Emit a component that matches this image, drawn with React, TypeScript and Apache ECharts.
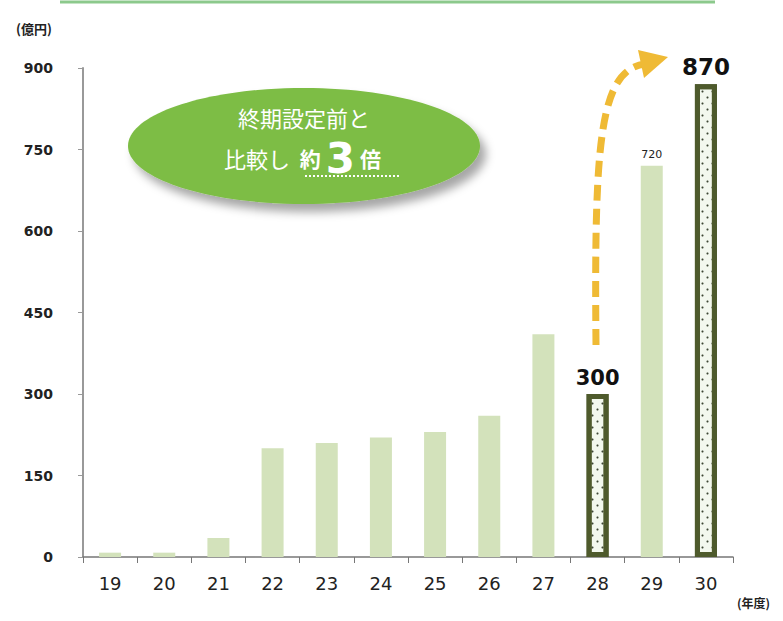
import React, { useEffect, useRef } from "react";
import * as echarts from "echarts";

const categories = ["19", "20", "21", "22", "23", "24", "25", "26", "27", "28", "29", "30"];
const values = [8, 8, 35, 200, 210, 220, 230, 260, 410, 300, 720, 870];
const highlighted = ["28", "30"];
const smallLabel = ["29"];
const yTicks = [0, 150, 300, 450, 600, 750, 900];

export default function App() {
  const ref = useRef<HTMLDivElement>(null);
  useEffect(() => {
    if (!ref.current) return;
    const chart = echarts.init(ref.current, null, { renderer: "svg" });
    const data = values.map((v, i) => {
      const c = categories[i];
      if (highlighted.includes(c)) {
        return {
          value: v,
          itemStyle: {
            color: "#f3f8ee",
            borderColor: "#4e5a2c",
            borderWidth: 5,
            decal: {
              symbol: "circle",
              symbolSize: 0.7,
              color: "rgba(30,40,20,0.85)",
              dashArrayX: [[5, 5], [0, 5, 5, 0]],
              dashArrayY: [3, 3],
              rotation: 0,
            },
          },
          label: {
            show: true,
            position: "top",
            distance: 6,
            fontSize: c === "30" ? 23 : 21,
            fontWeight: "bold",
            color: "#111",
            fontFamily: "Verdana, DejaVu Sans, sans-serif",
          },
        };
      }
      if (smallLabel.includes(c)) {
        return {
          value: v,
          label: {
            show: true,
            position: "top",
            distance: 6,
            fontSize: 11,
            color: "#222",
            fontFamily: "DejaVu Sans, sans-serif",
          },
        };
      }
      return { value: v };
    });
    chart.setOption({
      animation: false,
      backgroundColor: "#ffffff",
      grid: { left: 83, right: 50, top: 68, bottom: 64, containLabel: false },
      xAxis: {
        type: "category",
        data: categories,
        axisLine: { show: true, lineStyle: { color: "#777", width: 1.5 } },
        axisTick: { show: true, alignWithLabel: false, length: 6, lineStyle: { color: "#777" } },
        axisLabel: {
          margin: 17,
          fontSize: 18,
          color: "#222",
          fontFamily: "Verdana, DejaVu Sans, sans-serif",
        },
      },
      yAxis: {
        type: "value",
        min: 0,
        max: 900,
        interval: 150,
        axisLine: { show: true, lineStyle: { color: "#999", width: 2 } },
        axisTick: { show: true, length: 5, lineStyle: { color: "#999" } },
        splitLine: { show: false },
        axisLabel: {
          margin: 30,
          fontSize: 14,
          fontWeight: "bold",
          color: "#222",
          fontFamily: "Verdana, DejaVu Sans, sans-serif",
          formatter: (v: number) => (yTicks.includes(v) ? String(v) : ""),
        },
      },
      series: [
        {
          type: "bar",
          data,
          barWidth: 22,
          itemStyle: { color: "#d3e2bb" },
        },
      ],
      graphic: [
        {
          type: "line",
          shape: { x1: 60, y1: 2, x2: 715, y2: 2 },
          style: { stroke: "#8cc98c", lineWidth: 3 },
        },
        {
          type: "text",
          left: 16,
          top: 22,
          style: {
            text: "(億円)",
            fontSize: 13,
            fontWeight: "bold",
            fill: "#222",
            fontFamily: "Noto Sans CJK JP, sans-serif",
          },
        },
        {
          type: "text",
          left: 737,
          top: 596,
          style: {
            text: "(年度)",
            fontSize: 12,
            fontWeight: "bold",
            fill: "#222",
            fontFamily: "Noto Sans CJK JP, sans-serif",
          },
        },
        {
          type: "ellipse",
          shape: { cx: 304, cy: 146, rx: 176, ry: 58 },
          style: {
            fill: "#7dbd45",
            shadowBlur: 10,
            shadowOffsetX: 6,
            shadowOffsetY: 8,
            shadowColor: "rgba(0,0,0,0.35)",
          },
        },
        {
          type: "text",
          x: 304,
          y: 117,
          style: {
            text: "終期設定前と",
            fontSize: 22,
            fill: "#ffffff",
            align: "center",
            verticalAlign: "middle",
            fontFamily: "Noto Sans CJK JP, sans-serif",
          },
        },
        {
          type: "text",
          x: 305,
          y: 158,
          style: {
            text: "{a|比較し }{b|約}{c|3}{b|倍}",
            align: "center",
            verticalAlign: "middle",
            fill: "#ffffff",
            rich: {
              a: { fontSize: 22, fill: "#ffffff", fontFamily: "Noto Sans CJK JP, sans-serif" },
              b: { fontSize: 21, fontWeight: "bold", fill: "#ffffff", fontFamily: "Noto Sans CJK JP, sans-serif", padding: [0, 5, 0, 5] },
              c: { fontSize: 42, fontWeight: "bold", fill: "#ffffff", fontFamily: "Verdana, DejaVu Sans, sans-serif" },
            },
          },
        },
        {
          type: "line",
          shape: { x1: 305, y1: 176, x2: 400, y2: 176 },
          style: { stroke: "#ffffff", lineWidth: 2, lineDash: [2, 2] },
        },
        {
          type: "bezierCurve",
          shape: { x1: 596, y1: 345, cpx1: 594, cpy1: 140, cpx2: 600, cpy2: 70, x2: 645, y2: 64 },
          style: { stroke: "#efba35", lineWidth: 7, lineDash: [16, 8], fill: null },
        },
        {
          type: "polygon",
          shape: { points: [[638, 50], [668, 57], [644, 78]] },
          style: { fill: "#efba35" },
        },
      ],
    });
    return () => chart.dispose();
  }, []);
  return <div ref={ref} style={{ width: 783, height: 621, position: "absolute", left: 0, top: 0 }} />;
}
